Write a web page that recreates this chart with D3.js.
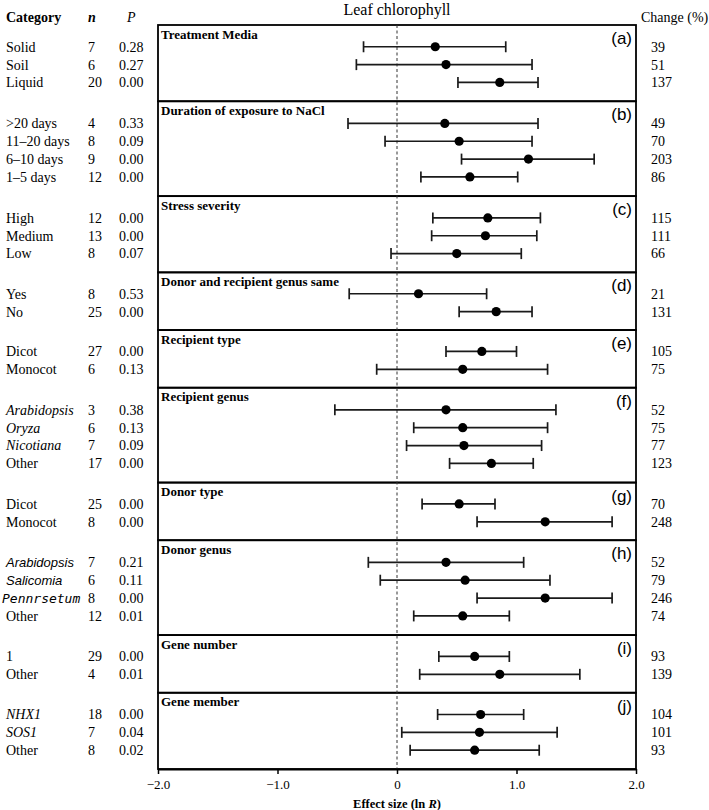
<!DOCTYPE html>
<html><head><meta charset="utf-8">
<script src="https://cdn.jsdelivr.net/npm/d3@7"></script>
<style>body{margin:0;background:#fff}svg{display:block}
.sf{font-family:"Liberation Serif","Times New Roman","DejaVu Serif",serif}
.ss{font-family:"Liberation Sans",Arial,sans-serif}
.mono{font-family:"DejaVu Sans Mono",monospace}
</style>
</head><body>
<svg id="chart" width="709" height="810"></svg>
<script>
// ---------- DATA ----------
const panelTitles = ["Treatment Media","Duration of exposure to NaCl","Stress severity","Donor and recipient genus same","Recipient type","Recipient genus","Donor type","Donor genus","Gene number","Gene member"];
const panelLetters = ["(a)","(b)","(c)","(d)","(e)","(f)","(g)","(h)","(i)","(j)"];
const panelIndex = [0,0,0,1,1,1,1,2,2,2,3,3,4,4,5,5,5,5,6,6,7,7,7,7,8,8,9,9,9];
const categories = ["Solid","Soil","Liquid",">20 days","11\u201320 days","6\u201310 days","1\u20135 days","High","Medium","Low","Yes","No","Dicot","Monocot","Arabidopsis","Oryza","Nicotiana","Other","Dicot","Monocot","Arabidopsis","Salicomia","Pennrsetum","Other","1","Other","NHX1","SOS1","Other"];
const nValues = [7,6,20,4,8,9,12,12,13,8,8,25,27,6,3,6,7,17,25,8,7,6,8,12,29,4,18,7,8];
const pValues = ["0.28","0.27","0.00","0.33","0.09","0.00","0.00","0.00","0.00","0.07","0.53","0.00","0.00","0.13","0.38","0.13","0.09","0.00","0.00","0.00","0.21","0.11","0.00","0.01","0.00","0.01","0.00","0.04","0.02"];
const effectSize = [0.32,0.41,0.86,0.40,0.52,1.10,0.61,0.76,0.74,0.50,0.18,0.83,0.71,0.55,0.41,0.55,0.56,0.79,0.52,1.24,0.41,0.57,1.24,0.55,0.65,0.86,0.70,0.69,0.65];
const ciLow = [-0.28,-0.34,0.51,-0.41,-0.10,0.54,0.20,0.30,0.29,-0.05,-0.40,0.52,0.41,-0.17,-0.52,0.14,0.08,0.44,0.21,0.67,-0.24,-0.14,0.67,0.14,0.35,0.19,0.34,0.04,0.11];
const ciHigh = [0.91,1.13,1.18,1.18,1.13,1.65,1.01,1.20,1.17,1.04,0.75,1.13,1.00,1.26,1.33,1.26,1.21,1.14,0.82,1.80,1.06,1.28,1.80,0.94,0.94,1.53,1.06,1.34,1.19];
const changePct = [39,51,137,49,70,203,86,115,111,66,21,131,105,75,52,75,77,123,70,248,52,79,246,74,93,139,104,101,93];
const xTicks = [-2,-1,0,1,2];

// ---------- LAYOUT ----------
const plotL = 158, plotR = 636, plotT = 25, plotB = 769;
const svg = d3.select("#chart");
const x = d3.scaleLinear().domain([-2,2]).range([plotL,plotR]);

const rowsPer = panelTitles.map((_,i)=>panelIndex.filter(p=>p===i).length);
const pad = 1.1;
const panelStart = [];
let acc = 0;
rowsPer.forEach(n=>{panelStart.push(acc); acc += n + pad;});
const y = d3.scaleLinear().domain([0,acc]).range([plotT,plotB]);

const rows = categories.map((c,i)=>{
  const p = panelIndex[i];
  const k = panelIndex.slice(0,i).filter(q=>q===p).length;
  const n = rowsPer[p];
  const u = panelStart[p] + (n+pad)/2 + 0.08 + (k-(n-1)/2)*0.96;
  return {cat:c,p,k,n:nValues[i],P:pValues[i],es:effectSize[i],lo:ciLow[i],hi:ciHigh[i],ch:changePct[i],u};
});

function labelStyle(d){
  if (d.cat==="Other") return {cls:"sf",style:"normal",size:14};
  if (d.p===5) return {cls:"sf",style:"italic",size:14};
  if (d.p===7) {
    if (d.cat==="Pennrsetum") return {cls:"mono",style:"oblique",size:13};
    return {cls:"ss",style:"italic",size:13};
  }
  if (d.p===9) return {cls:"sf",style:"italic",size:14};
  return {cls:"sf",style:"normal",size:14};
}

// title
svg.append("text").attr("class","sf").attr("x",x(0)).attr("y",15).attr("text-anchor","middle")
  .attr("font-size",16).text("Leaf chlorophyll");

// column headers
svg.append("text").attr("class","sf").attr("x",6).attr("y",22).attr("font-weight","bold").attr("font-size",14).text("Category");
svg.append("text").attr("class","sf").attr("x",88).attr("y",22).attr("font-weight","bold").attr("font-style","italic").attr("font-size",14).text("n");
svg.append("text").attr("class","sf").attr("x",127).attr("y",22).attr("font-style","italic").attr("font-size",14).text("P");
svg.append("text").attr("class","sf").attr("x",641).attr("y",22).attr("font-size",14).text("Change (%)");

// panels
const panels = svg.append("g");
panelTitles.forEach((t,i)=>{
  const y0 = y(panelStart[i]), y1 = y(panelStart[i]+rowsPer[i]+pad);
  panels.append("rect").attr("x",plotL).attr("y",y0).attr("width",plotR-plotL).attr("height",y1-y0)
    .attr("fill","none").attr("stroke","#000").attr("stroke-width",1.8);
  panels.append("text").attr("class","sf").attr("x",plotL+3).attr("y",y0+13.5).attr("font-weight","bold")
    .attr("font-size",13).text(t);
  panels.append("text").attr("class","ss").attr("x",plotR-4).attr("y",y0+19).attr("text-anchor","end")
    .attr("font-size",17).text(panelLetters[i]);
});

// zero line
svg.append("line").attr("x1",x(0)).attr("x2",x(0)).attr("y1",plotT).attr("y2",plotB)
  .attr("stroke","#333").attr("stroke-width",1).attr("stroke-dasharray","3,2.5");

// forest rows
const g = svg.append("g");
const r = g.selectAll("g.row").data(rows).join("g").attr("class","row");
r.append("line").attr("x1",d=>x(d.lo)).attr("x2",d=>x(d.hi)).attr("y1",d=>y(d.u)).attr("y2",d=>y(d.u))
  .attr("stroke","#1a1a1a").attr("stroke-width",1.7);
r.append("line").attr("x1",d=>x(d.lo)).attr("x2",d=>x(d.lo)).attr("y1",d=>y(d.u)-5.5).attr("y2",d=>y(d.u)+5.5)
  .attr("stroke","#1a1a1a").attr("stroke-width",1.7);
r.append("line").attr("x1",d=>x(d.hi)).attr("x2",d=>x(d.hi)).attr("y1",d=>y(d.u)-5.5).attr("y2",d=>y(d.u)+5.5)
  .attr("stroke","#1a1a1a").attr("stroke-width",1.7);
r.append("circle").attr("cx",d=>x(d.es)).attr("cy",d=>y(d.u)).attr("r",4.6).attr("fill","#000");

// left table
r.append("text").attr("x",d=>d.cat==="Pennrsetum"?2:6).attr("y",d=>y(d.u)).attr("dy","0.35em")
  .each(function(d){const s=labelStyle(d);d3.select(this).attr("class",s.cls).attr("font-style",s.style).attr("font-size",s.size);})
  .text(d=>d.cat);
r.append("text").attr("class","sf").attr("x",88).attr("y",d=>y(d.u)).attr("dy","0.35em").attr("font-size",14).text(d=>d.n);
r.append("text").attr("class","sf").attr("x",119).attr("y",d=>y(d.u)).attr("dy","0.35em").attr("font-size",14).text(d=>d.P);
// right column
r.append("text").attr("class","sf").attr("x",651).attr("y",d=>y(d.u)).attr("dy","0.35em").attr("font-size",14).text(d=>d.ch);

// x axis
const ax = svg.append("g").attr("transform",`translate(0,${plotB})`)
  .call(d3.axisBottom(x).tickValues(xTicks).tickSizeInner(5).tickSizeOuter(0).tickPadding(6)
    .tickFormat(d=>d===0?"0":d3.format(".1f")(d)));
ax.select(".domain").attr("stroke","#000").attr("stroke-width",1.8);
ax.selectAll(".tick line").attr("stroke","#000").attr("stroke-width",1.5);
ax.selectAll(".tick text").attr("class","sf").attr("font-family",null).attr("font-size",13).attr("fill","#000");
ax.attr("font-family",null);

const at = svg.append("text").attr("class","sf").attr("x",x(0)).attr("y",808).attr("text-anchor","middle")
  .attr("font-weight","bold").attr("font-size",12.5);
at.append("tspan").text("Effect size (ln ");
at.append("tspan").attr("font-style","italic").text("R");
at.append("tspan").text(")");
</script>
</body></html>
